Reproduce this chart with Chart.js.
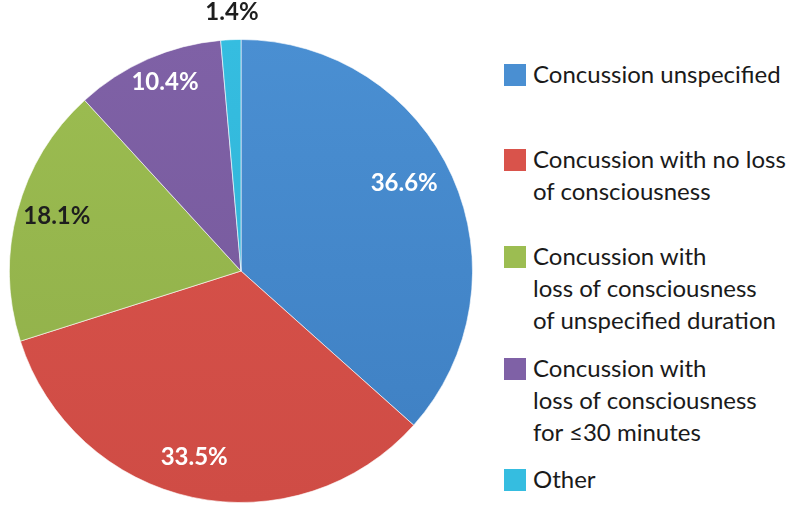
<!DOCTYPE html>
<html>
<head>
<meta charset="utf-8">
<script src="https://cdn.jsdelivr.net/npm/chart.js@4.4.0/dist/chart.umd.min.js"></script>
<style>
  body { margin: 0; background: #ffffff; }
  #wrap { position: relative; width: 790px; height: 513px; }
  #chart-box { position: absolute; left: 0; top: 0; width: 482px; height: 513px; }
  #legend { position: absolute; left: 504px; top: 0; font-family: Lato, "Open Sans", sans-serif; font-size: 24px; color: #1a1a1a; }
  .item { position: absolute; left: 0; white-space: nowrap; }
  .swatch { position: absolute; left: 0; width: 22px; height: 22px; }
  .text { position: absolute; left: 29px; line-height: 32px; }
</style>
</head>
<body>
<div id="wrap">
  <div id="chart-box"><canvas id="pie"></canvas></div>
  <div id="legend"></div>
</div>
<script>
const categories = [
    "Concussion unspecified",
    "Concussion with no loss of consciousness",
    "Concussion with loss of consciousness of unspecified duration",
    "Concussion with loss of consciousness for ≤30 minutes",
    "Other"
];
const legendLines = [
    ["Concussion unspecified"],
    ["Concussion with no loss", "of consciousness"],
    ["Concussion with", "loss of consciousness", "of unspecified duration"],
    ["Concussion with", "loss of consciousness", "for ≤30 minutes"],
    ["Other"]
];
const shares = [36.6, 33.5, 18.1, 10.4, 1.4];
const percentLabels = ["36.6%", "33.5%", "18.1%", "10.4%", "1.4%"];

const sliceColors = ['#4a8fd2', '#d9534b', '#9cbd51', '#7f61a6', '#35bde0'];
const sliceDark = ['#3e7fc2', '#cf4c45', '#8fae49', '#74589a', '#2fb0d4'];
const labelColors = ['#ffffff', '#ffffff', '#1e1e1e', '#ffffff', '#1e1e1e'];
// label spots: degrees clockwise from top, fraction of radius
const labelSpots = [[61.8, 0.80], [194.1, 0.83], [286.6, 0.83], [338.1, 0.88], [358.0, 1.117]];

// legend rows: top of swatch
const legendTops = [64, 149, 246, 358, 469];

function buildLegend() {
    const legend = document.getElementById('legend');
    legendLines.forEach((lines, i) => {
        const item = document.createElement('div');
        item.className = 'item';
        item.style.top = legendTops[i] + 'px';
        const sw = document.createElement('div');
        sw.className = 'swatch';
        sw.style.background = sliceColors[i];
        item.appendChild(sw);
        const txt = document.createElement('div');
        txt.className = 'text';
        txt.style.top = '-6px';
        txt.innerHTML = lines.join('<br>');
        item.appendChild(txt);
        legend.appendChild(item);
    });
}

// Draw the percent labels on top of the slices
const percentPlugin = {
    id: 'percentPlugin',
    afterDatasetsDraw(chart) {
        const ctx = chart.ctx;
        const arc = chart.getDatasetMeta(0).data[0];
        const cx = arc.x, cy = arc.y, r = arc.outerRadius;
        ctx.save();
        ctx.font = 'bold 24px Lato, "Open Sans", sans-serif';
        ctx.textAlign = 'center';
        ctx.textBaseline = 'middle';
        percentLabels.forEach((label, i) => {
            const a = labelSpots[i][0] * Math.PI / 180;
            const d = labelSpots[i][1] * r;
            ctx.fillStyle = labelColors[i];
            ctx.fillText(label, cx + Math.sin(a) * d, cy - Math.cos(a) * d);
        });
        ctx.restore();
    }
};

function sliceFill(context) {
    const chart = context.chart;
    const area = chart.chartArea;
    if (!area) return sliceColors[context.dataIndex];
    const g = chart.ctx.createLinearGradient(0, area.top, 0, area.bottom);
    g.addColorStop(0, sliceColors[context.dataIndex]);
    g.addColorStop(1, sliceDark[context.dataIndex]);
    return g;
}

new Chart(document.getElementById('pie'), {
    type: 'pie',
    data: {
        labels: categories,
        datasets: [{
            data: shares,
            backgroundColor: sliceFill,
            borderColor: 'rgba(255,255,255,0.6)',
            borderWidth: 1
        }]
    },
    options: {
        responsive: true,
        maintainAspectRatio: false,
        animation: false,
        layout: { padding: { left: 9, right: 9, top: 39, bottom: 10 } },
        plugins: {
            legend: { display: false },
            tooltip: { enabled: false }
        }
    },
    plugins: [percentPlugin]
});

buildLegend();
</script>
</body>
</html>
